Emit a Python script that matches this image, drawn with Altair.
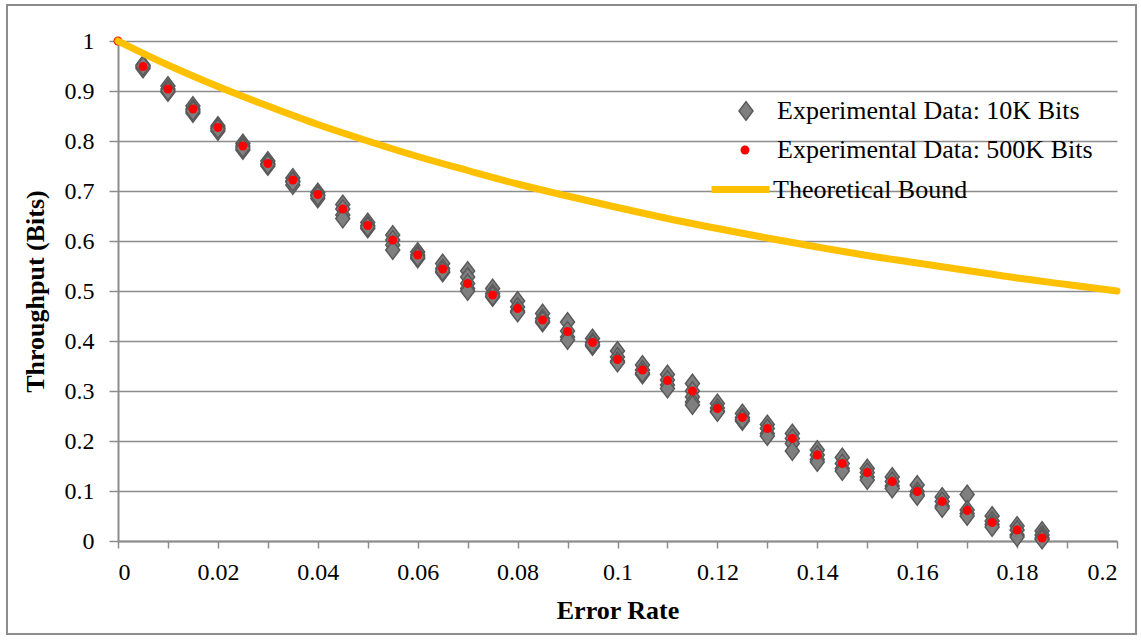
import altair as alt
import pandas as pd

# ---- data -----------------------------------------------------------------
error_rate = [0.005, 0.01, 0.015, 0.02, 0.025, 0.03, 0.035, 0.04, 0.045, 0.05,
              0.055, 0.06, 0.065, 0.07, 0.075, 0.08, 0.085, 0.09, 0.095, 0.1,
              0.105, 0.11, 0.115, 0.12, 0.125, 0.13, 0.135, 0.14, 0.145, 0.15,
              0.155, 0.16, 0.165, 0.17, 0.175, 0.18, 0.185]

# repeated 10K-bit runs at each error rate
runs_10k = [
    [0.952, 0.948, 0.945, 0.950],
    [0.910, 0.904, 0.898, 0.900],
    [0.870, 0.864, 0.856, 0.860],
    [0.830, 0.826, 0.820, 0.824],
    [0.795, 0.790, 0.782, 0.786],
    [0.760, 0.755, 0.750, 0.753],
    [0.726, 0.720, 0.712, 0.718],
    [0.697, 0.692, 0.685, 0.690],
    [0.673, 0.664, 0.652, 0.645],
    [0.637, 0.631, 0.625, 0.628],
    [0.612, 0.602, 0.592, 0.582],
    [0.578, 0.572, 0.565, 0.568],
    [0.555, 0.545, 0.537, 0.540],
    [0.540, 0.528, 0.515, 0.505, 0.500],
    [0.505, 0.495, 0.488, 0.490],
    [0.480, 0.468, 0.460, 0.457],
    [0.455, 0.445, 0.437, 0.440],
    [0.438, 0.420, 0.408, 0.402],
    [0.405, 0.397, 0.390, 0.393],
    [0.380, 0.368, 0.360, 0.357],
    [0.352, 0.342, 0.333, 0.336],
    [0.333, 0.322, 0.312, 0.305],
    [0.315, 0.300, 0.288, 0.278, 0.272],
    [0.275, 0.266, 0.260, 0.258],
    [0.255, 0.247, 0.240, 0.243],
    [0.233, 0.225, 0.215, 0.210],
    [0.215, 0.205, 0.195, 0.180],
    [0.182, 0.172, 0.163, 0.158],
    [0.167, 0.155, 0.145, 0.140],
    [0.145, 0.137, 0.128, 0.122],
    [0.128, 0.119, 0.110, 0.105],
    [0.112, 0.099, 0.093, 0.090],
    [0.088, 0.079, 0.070, 0.066],
    [0.093, 0.062, 0.055, 0.050],
    [0.050, 0.040, 0.033, 0.028],
    [0.030, 0.022, 0.012, 0.008],
    [0.020, 0.012, 0.006, 0.003],
]

# 500K-bit runs
err_500k = [0.0] + error_rate
thr_500k = [1.0, 0.949, 0.904, 0.864, 0.827, 0.790, 0.755, 0.722, 0.693, 0.664,
            0.631, 0.602, 0.572, 0.544, 0.515, 0.492, 0.465, 0.442, 0.419, 0.397,
            0.363, 0.342, 0.321, 0.300, 0.265, 0.247, 0.225, 0.205, 0.172, 0.155,
            0.137, 0.119, 0.099, 0.079, 0.061, 0.037, 0.022, 0.006]

# theoretical bound
bound_err = [0.0, 0.01, 0.02, 0.03, 0.04, 0.05, 0.06, 0.07, 0.08, 0.09, 0.1,
             0.11, 0.12, 0.13, 0.14, 0.15, 0.16, 0.17, 0.18, 0.19, 0.2]
bound_thr = [1.0, 0.952, 0.909, 0.870, 0.833, 0.800, 0.769, 0.741, 0.714, 0.690,
             0.667, 0.645, 0.625, 0.606, 0.588, 0.571, 0.556, 0.541, 0.526, 0.513, 0.5]

x_ticks = [0.0, 0.01, 0.02, 0.03, 0.04, 0.05, 0.06, 0.07, 0.08, 0.09, 0.1,
           0.11, 0.12, 0.13, 0.14, 0.15, 0.16, 0.17, 0.18, 0.19, 0.2]
y_ticks = [0.0, 0.1, 0.2, 0.3, 0.4, 0.5, 0.6, 0.7, 0.8, 0.9, 1.0]

S10K = "Experimental Data: 10K Bits"
S500K = "Experimental Data: 500K Bits"
SBOUND = "Theoretical Bound"

df_10k = pd.DataFrame(
    [{"err": e, "thr": v, "series": S10K} for e, vals in zip(error_rate, runs_10k) for v in vals]
)
df_500k = pd.DataFrame({"err": err_500k, "thr": thr_500k, "series": S500K})
df_bound = pd.DataFrame({"err": bound_err, "thr": bound_thr, "series": SBOUND})

# ---- styling ----------------------------------------------------------------
SERIF = "'Times New Roman', 'Liberation Serif', 'DejaVu Serif', serif"
GRID = "#8c8c8c"
DIAMOND = "M0,-1.2L0.9,0L0,1.2L-0.9,0Z"

x_enc = alt.X(
    "err:Q",
    scale=alt.Scale(domain=[0, 0.2], nice=False, zero=False),
    axis=alt.Axis(
        values=x_ticks,
        labelExpr="round(datum.value * 100) % 2 == 0 ? format(datum.value, '~g') : ''",
        title="Error Rate",
        grid=False,
        tickSize=7,
        labelFontSize=24,
        labelPadding=12,
        titleFontSize=26,
        titlePadding=13,
    ),
)
y_enc = alt.Y(
    "thr:Q",
    scale=alt.Scale(domain=[0, 1], nice=False),
    axis=alt.Axis(
        values=y_ticks,
        format="~g",
        title="Throughput (Bits)",
        grid=True,
        tickSize=9,
        labelFontSize=24,
        labelPadding=15,
        titleFontSize=26,
        titlePadding=16,
    ),
)


def legend(x, y, **kw):
    return alt.Legend(
        title=None, orient="none", legendX=x, legendY=y, padding=0, labelLimit=0,
        labelFont=SERIF, labelFontSize=26, labelColor="black", **kw
    )


diamonds = alt.Chart(df_10k).mark_point(
    filled=True, shape=DIAMOND, size=242, stroke="#595959", strokeWidth=1.5, opacity=1
).encode(
    x=x_enc, y=y_enc,
    color=alt.Color(
        "series:N",
        scale=alt.Scale(domain=[S10K], range=["#7f7f7f"]),
        legend=legend(615, 57, symbolType=DIAMOND, symbolSize=242,
                      symbolStrokeColor="#595959", symbolStrokeWidth=1.5,
                      symbolOpacity=1, labelOffset=18),
    ),
)

dots = alt.Chart(df_500k).mark_point(
    filled=True, shape="circle", size=80, opacity=1
).encode(
    x=x_enc, y=y_enc,
    color=alt.Color(
        "series:N",
        scale=alt.Scale(domain=[S500K], range=["#ff0000"]),
        legend=legend(614, 96, symbolType="circle", symbolSize=80,
                      symbolStrokeWidth=0, symbolOpacity=1, labelOffset=19),
    ),
)

bound = alt.Chart(df_bound).mark_line(
    strokeWidth=7, strokeCap="round", interpolate="monotone"
).encode(
    x=x_enc, y=y_enc,
    color=alt.Color(
        "series:N",
        scale=alt.Scale(domain=[SBOUND], range=["#ffc000"]),
        legend=legend(590, 116, symbolType="stroke", symbolSize=3364,
                      symbolStrokeWidth=7, labelOffset=0),
    ),
)

# frame around the whole figure
frame = alt.Chart(alt.Data(values=[{}])).mark_rect(
    filled=False, stroke=GRID, strokeWidth=2
).encode(
    x=alt.value(-111), x2=alt.value(1018), y=alt.value(-36), y2=alt.value(593)
)

chart = alt.layer(frame, diamonds, dots, bound).resolve_scale(
    color="independent"
).resolve_legend(
    color="independent"
).properties(
    width=999,
    height=500,
    autosize=alt.AutoSizeParams(type="none"),
    padding={"left": 118, "top": 41, "right": 24, "bottom": 99},
    background="white",
).configure_axis(
    labelFont=SERIF,
    titleFont=SERIF,
    labelColor="black",
    titleColor="black",
    titleFontWeight="bold",
    domainColor=GRID,
    domainWidth=2,
    tickColor=GRID,
    tickWidth=1.5,
    gridColor=GRID,
    gridWidth=1.5,
    gridOpacity=1,
).configure_view(stroke=None)

chart.save("out.html", embed_options={"renderer": "svg", "actions": False})
